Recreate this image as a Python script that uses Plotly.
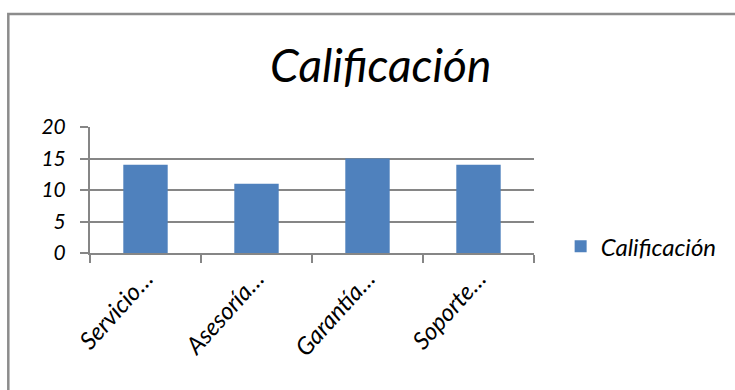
import plotly.graph_objects as go

# Ratings per service area
categories = ["Servicio…", "Asesoría…", "Garantía…", "Soporte…"]
scores = [14, 11, 15, 14]
series_name = "Calificación"
y_ticks = [0, 5, 10, 15, 20]

FONT = "Lato"
GRID = "#868686"
BAR = "#4F81BD"

fig = go.Figure()
fig.add_trace(go.Bar(
    x=categories,
    y=scores,
    name=series_name,
    marker=dict(color=BAR, line=dict(width=0)),
    width=0.4,
    showlegend=True,
))

fig.update_layout(
    width=735,
    height=390,
    margin=dict(l=90, r=201, t=127, b=137),
    paper_bgcolor="white",
    plot_bgcolor="white",
    title=dict(
        text="<i>Calificación</i>",
        x=0.518, xanchor="center",
        y=0.79, yanchor="bottom",
        font=dict(family=FONT, size=46, color="black"),
    ),
    showlegend=True,
    legend=dict(
        x=1.06, xanchor="left",
        y=0.05, yanchor="middle",
        font=dict(family=FONT, size=24, color="black", style="italic"),
        bgcolor="rgba(0,0,0,0)",
        itemwidth=30,
    ),
    xaxis=dict(
        type="category",
        showline=True, linecolor=GRID, linewidth=2,
        ticks="outside", ticklen=8, tickcolor=GRID, tickwidth=2,
        tickson="boundaries",
        tickangle=-48,
        tickfont=dict(family=FONT, size=24, color="black", style="italic"),
        showgrid=False,
    ),
    yaxis=dict(
        range=[0, 20],
        tickvals=y_ticks,
        showline=True, linecolor=GRID, linewidth=2,
        ticks="outside", ticklen=8, tickcolor=GRID, tickwidth=2,
        showgrid=True, gridcolor=GRID, gridwidth=2,
        zeroline=False,
        tickfont=dict(family=FONT, size=21, color="black", style="italic"),
        ticklabelstandoff=10,
    ),
)

# Chart-area frame
fig.add_shape(
    type="rect", xref="paper", yref="paper",
    x0=-0.184, x1=1.48, y0=-1.3, y1=1.897,
    line=dict(color="#8c8c8c", width=2.5),
    fillcolor="rgba(0,0,0,0)",
    layer="below",
)

fig.write_html("out.html")
